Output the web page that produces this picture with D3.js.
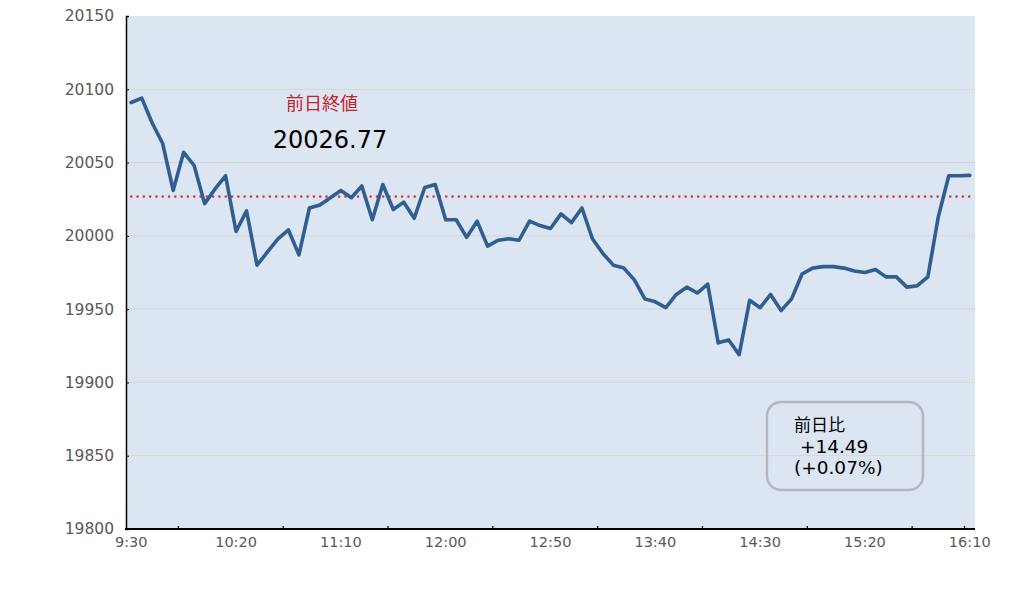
<!DOCTYPE html>
<html><head><meta charset="utf-8">
<script src="https://cdn.jsdelivr.net/npm/d3@7"></script>
<style>
html,body{margin:0;padding:0;background:#fff;}
svg{display:block;font-family:"DejaVu Sans","Noto Sans CJK JP",sans-serif;}
</style></head>
<body>
<svg id="chart" width="1036" height="598"></svg>
<script>
const times = ["9:30","9:35","9:40","9:45","9:50","9:55","10:00","10:05","10:10","10:15",
"10:20","10:25","10:30","10:35","10:40","10:45","10:50","10:55","11:00","11:05",
"11:10","11:15","11:20","11:25","11:30","11:35","11:40","11:45","11:50","11:55",
"12:00","12:05","12:10","12:15","12:20","12:25","12:30","12:35","12:40","12:45",
"12:50","12:55","13:00","13:05","13:10","13:15","13:20","13:25","13:30","13:35",
"13:40","13:45","13:50","13:55","14:00","14:05","14:10","14:15","14:20","14:25",
"14:30","14:35","14:40","14:45","14:50","14:55","15:00","15:05","15:10","15:15",
"15:20","15:25","15:30","15:35","15:40","15:45","15:50","15:55","16:00","16:05","16:10"];
const values = [20091,20094,20077,20063,20031,20057,20048,20022,20032,20041,
20003,20017,19980,19989,19998,20004,19987,20019,20021,20026,
20031,20026,20034,20011,20035,20018,20023,20012,20033,20035,
20011,20011,19999,20010,19993,19997,19998,19997,20010,20007,
20005,20015,20009,20019,19998,19988,19980,19978,19970,19957,
19955,19951,19960,19965,19961,19967,19927,19929,19919,19956,
19951,19960,19949,19957,19974,19978,19979,19979,19978,19976,
19975,19977,19972,19972,19965,19966,19972,20013,20041,20041,20041.26];
const prevClose = 20026.77;
const xTickLabels = ["9:30","10:20","11:10","12:00","12:50","13:40","14:30","15:20","16:10"];
const xTickMarks = ["9:55","10:45","11:35","12:25","13:15","14:05","14:55","15:45","16:10"];
const yTicks = [19800,19850,19900,19950,20000,20050,20100,20150];
const prevLabel = "前日終値";
const prevValueLabel = "20026.77";
const changeLines = ["前日比", " +14.49", "(+0.07%)"];

const svg = d3.select("#chart");
const L = 126, R = 975, T = 16, B = 529;
const x = d3.scaleBand().domain(times).range([L, R]).padding(0);
const y = d3.scaleLinear().domain([19800, 20150]).range([B, T]);
const cx = t => x(t) + x.bandwidth() / 2;

svg.append("rect").attr("x", L).attr("y", T).attr("width", R - L).attr("height", B - T).attr("fill", "#dce6f2");

// grid
svg.append("g").selectAll("line").data(yTicks.filter(v => v > 19800 && v < 20150)).join("line")
  .attr("x1", L).attr("x2", R).attr("y1", d => y(d)).attr("y2", d => y(d))
  .attr("stroke", "#d6d6d2").attr("stroke-width", 1);

// y axis
const yAxis = svg.append("g").attr("transform", `translate(${L},0)`)
  .call(d3.axisLeft(y).tickValues(yTicks).tickSize(-3).tickPadding(12).tickFormat(d3.format("d")));
yAxis.select(".domain").attr("stroke", "#000").attr("stroke-width", 1.5);
yAxis.selectAll(".tick line").attr("stroke", "#000").attr("stroke-width", 1);
yAxis.selectAll("text").attr("fill", "#595959").attr("font-size", 15.5).attr("font-family", "'DejaVu Sans',sans-serif");

// x axis labels
const xAxis = svg.append("g").attr("transform", `translate(0,${B})`)
  .call(d3.axisBottom(x).tickValues(xTickLabels).tickSize(0).tickPadding(8));
xAxis.select(".domain").remove();
xAxis.selectAll("text").attr("fill", "#595959").attr("font-size", 14.5).attr("font-family", "'DejaVu Sans',sans-serif");
// x tick marks (at category boundaries)
svg.append("g").selectAll("line").data(xTickMarks).join("line")
  .attr("x1", d => x(d)).attr("x2", d => x(d)).attr("y1", B).attr("y2", B - 3)
  .attr("stroke", "#000").attr("stroke-width", 1.2);
svg.append("line").attr("x1", L - 1).attr("x2", R).attr("y1", B).attr("y2", B)
  .attr("stroke", "#000").attr("stroke-width", 2);

// prev close dotted line
svg.append("path")
  .attr("d", d3.line()([[cx(times[0]), y(prevClose)], [cx(times[times.length - 1]), y(prevClose)]]))
  .attr("stroke", "#d0403a").attr("stroke-width", 2.6).attr("stroke-linecap", "round")
  .attr("stroke-dasharray", "0 6.3").attr("fill", "none");

// main line
svg.append("path").datum(values.map((v, i) => [times[i], v]))
  .attr("d", d3.line().x(d => cx(d[0])).y(d => y(d[1])))
  .attr("fill", "none").attr("stroke", "#315e90").attr("stroke-width", 3.6)
  .attr("stroke-linejoin", "round").attr("stroke-linecap", "round");

// annotations
svg.append("text").attr("x", 322).attr("y", 110).attr("text-anchor", "middle")
  .attr("fill", "#c8202a").attr("font-size", 18).attr("font-family", "'Noto Sans CJK JP',sans-serif").text(prevLabel);
svg.append("text").attr("x", 330).attr("y", 148).attr("text-anchor", "middle")
  .attr("fill", "#000").attr("font-size", 24).text(prevValueLabel);

svg.append("rect").attr("x", 767).attr("y", 402).attr("width", 156).attr("height", 88)
  .attr("rx", 14).attr("ry", 14).attr("fill", "none").attr("stroke", "#b4b8bd").attr("stroke-width", 2.5);
svg.append("g").selectAll("text").data(changeLines).join("text")
  .attr("x", 794).attr("y", (d, i) => 431 + i * 21.5)
  .attr("fill", "#000").attr("font-size", (d, i) => i === 0 ? 17 : 18.5).attr("xml:space", "preserve")
  .style("white-space", "pre").text(d => d);
</script>
</body></html>
